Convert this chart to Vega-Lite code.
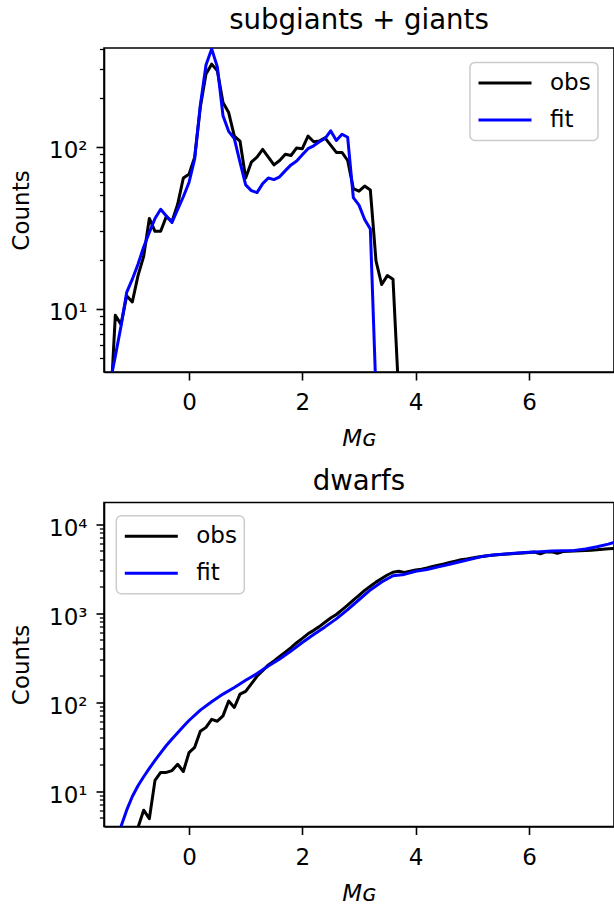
{
  "$schema": "https://vega.github.io/schema/vega-lite/v6.json",
  "padding": {"left": 9, "top": 6, "right": 0, "bottom": 0},
  "background": "white",
  "spacing": 14.5,
  "config": {
    "font": "DejaVu Sans",
    "view": {"stroke": "black", "strokeWidth": 1.6},
    "axis": {
      "domainColor": "black", "domainWidth": 1.6, "tickColor": "black", "tickWidth": 1.6,
      "labelFont": "DejaVu Sans", "labelFontSize": 23, "labelColor": "black",
      "titleFont": "DejaVu Sans", "titleFontSize": 23, "titleFontWeight": "normal", "titleColor": "black",
      "grid": false, "labelFlush": false, "labelOverlap": false, "labelBound": false
    },
    "title": {"font": "DejaVu Sans", "fontSize": 27.6, "fontWeight": "normal", "color": "black", "baseline": "alphabetic", "offset": 7, "frame": "group", "anchor": "middle"},
    "legend": {
      "title": null, "symbolType": "stroke", "symbolSize": 2809, "symbolStrokeWidth": 3,
      "clipHeight": 27, "rowPadding": 10, "labelFont": "DejaVu Sans", "labelFontSize": 23, "labelColor": "black",
      "labelOffset": 17, "padding": 7, "strokeColor": "#cccccc", "strokeWidth": 1.5,
      "fillColor": "rgba(255,255,255,0.8)", "cornerRadius": 5
    }
  },
  "resolve": {"scale": {"color": "independent", "x": "independent", "y": "independent"}, "legend": {"color": "independent"}},
  "datasets": {
    "giants": [
      {"x": -1.4, "n": 2, "s": "obs"}, {"x": -1.3, "n": 9.1, "s": "obs"}, {"x": -1.2, "n": 8.0, "s": "obs"}, {"x": -1.1, "n": 12, "s": "obs"},
      {"x": -1.0, "n": 11, "s": "obs"}, {"x": -0.9, "n": 16, "s": "obs"}, {"x": -0.8, "n": 21, "s": "obs"}, {"x": -0.7, "n": 36, "s": "obs"},
      {"x": -0.6, "n": 30, "s": "obs"}, {"x": -0.5, "n": 30, "s": "obs"}, {"x": -0.4, "n": 37, "s": "obs"}, {"x": -0.3, "n": 34.5, "s": "obs"},
      {"x": -0.2, "n": 44, "s": "obs"}, {"x": -0.1, "n": 64, "s": "obs"}, {"x": 0.0, "n": 67.5, "s": "obs"}, {"x": 0.1, "n": 86, "s": "obs"},
      {"x": 0.2, "n": 175, "s": "obs"}, {"x": 0.3, "n": 280, "s": "obs"}, {"x": 0.4, "n": 322, "s": "obs"}, {"x": 0.5, "n": 293, "s": "obs"},
      {"x": 0.6, "n": 187, "s": "obs"}, {"x": 0.7, "n": 162, "s": "obs"}, {"x": 0.8, "n": 116, "s": "obs"}, {"x": 0.9, "n": 108, "s": "obs"},
      {"x": 1.0, "n": 64, "s": "obs"}, {"x": 1.1, "n": 80, "s": "obs"}, {"x": 1.2, "n": 86, "s": "obs"}, {"x": 1.3, "n": 96, "s": "obs"},
      {"x": 1.4, "n": 86, "s": "obs"}, {"x": 1.5, "n": 77, "s": "obs"}, {"x": 1.6, "n": 82, "s": "obs"}, {"x": 1.7, "n": 89.5, "s": "obs"},
      {"x": 1.8, "n": 88, "s": "obs"}, {"x": 1.9, "n": 98, "s": "obs"}, {"x": 2.0, "n": 97, "s": "obs"}, {"x": 2.1, "n": 116, "s": "obs"},
      {"x": 2.2, "n": 107, "s": "obs"}, {"x": 2.3, "n": 108, "s": "obs"}, {"x": 2.4, "n": 113, "s": "obs"}, {"x": 2.5, "n": 102, "s": "obs"},
      {"x": 2.6, "n": 92, "s": "obs"}, {"x": 2.7, "n": 92, "s": "obs"}, {"x": 2.8, "n": 82, "s": "obs"}, {"x": 2.9, "n": 55, "s": "obs"},
      {"x": 3.0, "n": 53, "s": "obs"}, {"x": 3.1, "n": 57, "s": "obs"}, {"x": 3.2, "n": 54, "s": "obs"}, {"x": 3.3, "n": 19.7, "s": "obs"},
      {"x": 3.4, "n": 14.1, "s": "obs"}, {"x": 3.5, "n": 16, "s": "obs"}, {"x": 3.6, "n": 15.2, "s": "obs"}, {"x": 3.7, "n": 3, "s": "obs"},
      {"x": -1.4, "n": 3.4, "s": "fit"}, {"x": -1.3, "n": 5.1, "s": "fit"}, {"x": -1.2, "n": 7.8, "s": "fit"}, {"x": -1.1, "n": 12.6, "s": "fit"},
      {"x": -1.0, "n": 15.2, "s": "fit"}, {"x": -0.9, "n": 18.8, "s": "fit"}, {"x": -0.8, "n": 24, "s": "fit"}, {"x": -0.7, "n": 29.5, "s": "fit"},
      {"x": -0.6, "n": 36, "s": "fit"}, {"x": -0.5, "n": 41, "s": "fit"}, {"x": -0.4, "n": 37.3, "s": "fit"}, {"x": -0.3, "n": 34, "s": "fit"},
      {"x": -0.2, "n": 41, "s": "fit"}, {"x": -0.1, "n": 49, "s": "fit"}, {"x": 0.0, "n": 60, "s": "fit"}, {"x": 0.1, "n": 84, "s": "fit"},
      {"x": 0.2, "n": 180, "s": "fit"}, {"x": 0.3, "n": 318, "s": "fit"}, {"x": 0.4, "n": 400, "s": "fit"}, {"x": 0.5, "n": 310, "s": "fit"},
      {"x": 0.6, "n": 155, "s": "fit"}, {"x": 0.7, "n": 124, "s": "fit"}, {"x": 0.8, "n": 112, "s": "fit"}, {"x": 0.9, "n": 80, "s": "fit"},
      {"x": 1.0, "n": 58, "s": "fit"}, {"x": 1.1, "n": 53.5, "s": "fit"}, {"x": 1.2, "n": 52, "s": "fit"}, {"x": 1.3, "n": 59, "s": "fit"},
      {"x": 1.4, "n": 64, "s": "fit"}, {"x": 1.5, "n": 62.5, "s": "fit"}, {"x": 1.6, "n": 65, "s": "fit"}, {"x": 1.7, "n": 71, "s": "fit"},
      {"x": 1.8, "n": 77, "s": "fit"}, {"x": 1.9, "n": 81.5, "s": "fit"}, {"x": 2.0, "n": 89, "s": "fit"}, {"x": 2.1, "n": 97, "s": "fit"},
      {"x": 2.2, "n": 101, "s": "fit"}, {"x": 2.3, "n": 107, "s": "fit"}, {"x": 2.4, "n": 112, "s": "fit"}, {"x": 2.5, "n": 125, "s": "fit"},
      {"x": 2.6, "n": 109, "s": "fit"}, {"x": 2.7, "n": 119, "s": "fit"}, {"x": 2.8, "n": 114, "s": "fit"}, {"x": 2.9, "n": 48.4, "s": "fit"},
      {"x": 3.0, "n": 43.5, "s": "fit"}, {"x": 3.1, "n": 35.5, "s": "fit"}, {"x": 3.2, "n": 31, "s": "fit"}, {"x": 3.3, "n": 3, "s": "fit"}
    ],
    "dwarfs": [
      {"x": -1.0, "n": 1, "s": "obs"}, {"x": -0.9, "n": 3.9, "s": "obs"}, {"x": -0.8, "n": 6.1, "s": "obs"}, {"x": -0.7, "n": 4.9, "s": "obs"},
      {"x": -0.6, "n": 13.2, "s": "obs"}, {"x": -0.5, "n": 16.2, "s": "obs"}, {"x": -0.4, "n": 16.2, "s": "obs"}, {"x": -0.3, "n": 17, "s": "obs"},
      {"x": -0.2, "n": 20, "s": "obs"}, {"x": -0.1, "n": 16.6, "s": "obs"}, {"x": 0.0, "n": 27, "s": "obs"}, {"x": 0.1, "n": 31, "s": "obs"},
      {"x": 0.2, "n": 47, "s": "obs"}, {"x": 0.3, "n": 52, "s": "obs"}, {"x": 0.4, "n": 64, "s": "obs"}, {"x": 0.5, "n": 61, "s": "obs"},
      {"x": 0.6, "n": 70, "s": "obs"}, {"x": 0.7, "n": 103, "s": "obs"}, {"x": 0.8, "n": 87, "s": "obs"}, {"x": 0.9, "n": 123, "s": "obs"},
      {"x": 1.0, "n": 132, "s": "obs"}, {"x": 1.1, "n": 160, "s": "obs"}, {"x": 1.2, "n": 195, "s": "obs"}, {"x": 1.3, "n": 225, "s": "obs"},
      {"x": 1.4, "n": 262, "s": "obs"}, {"x": 1.5, "n": 290, "s": "obs"}, {"x": 1.6, "n": 325, "s": "obs"}, {"x": 1.7, "n": 365, "s": "obs"},
      {"x": 1.8, "n": 410, "s": "obs"}, {"x": 1.9, "n": 465, "s": "obs"}, {"x": 2.0, "n": 520, "s": "obs"}, {"x": 2.1, "n": 585, "s": "obs"},
      {"x": 2.2, "n": 640, "s": "obs"}, {"x": 2.3, "n": 705, "s": "obs"}, {"x": 2.4, "n": 790, "s": "obs"}, {"x": 2.5, "n": 880, "s": "obs"},
      {"x": 2.6, "n": 965, "s": "obs"}, {"x": 2.7, "n": 1090, "s": "obs"}, {"x": 2.8, "n": 1230, "s": "obs"}, {"x": 2.9, "n": 1400, "s": "obs"},
      {"x": 3.0, "n": 1580, "s": "obs"}, {"x": 3.1, "n": 1800, "s": "obs"}, {"x": 3.2, "n": 2000, "s": "obs"}, {"x": 3.3, "n": 2230, "s": "obs"},
      {"x": 3.4, "n": 2450, "s": "obs"}, {"x": 3.5, "n": 2680, "s": "obs"}, {"x": 3.6, "n": 2880, "s": "obs"}, {"x": 3.7, "n": 2950, "s": "obs"},
      {"x": 3.8, "n": 2870, "s": "obs"}, {"x": 3.9, "n": 2960, "s": "obs"}, {"x": 4.0, "n": 3060, "s": "obs"}, {"x": 4.1, "n": 3120, "s": "obs"},
      {"x": 4.2, "n": 3210, "s": "obs"}, {"x": 4.3, "n": 3340, "s": "obs"}, {"x": 4.4, "n": 3450, "s": "obs"}, {"x": 4.5, "n": 3560, "s": "obs"},
      {"x": 4.6, "n": 3700, "s": "obs"}, {"x": 4.7, "n": 3840, "s": "obs"}, {"x": 4.8, "n": 3980, "s": "obs"}, {"x": 4.9, "n": 4060, "s": "obs"},
      {"x": 5.0, "n": 4160, "s": "obs"}, {"x": 5.1, "n": 4260, "s": "obs"}, {"x": 5.2, "n": 4360, "s": "obs"}, {"x": 5.3, "n": 4440, "s": "obs"},
      {"x": 5.4, "n": 4500, "s": "obs"}, {"x": 5.5, "n": 4570, "s": "obs"}, {"x": 5.6, "n": 4610, "s": "obs"}, {"x": 5.7, "n": 4650, "s": "obs"},
      {"x": 5.8, "n": 4700, "s": "obs"}, {"x": 5.9, "n": 4750, "s": "obs"}, {"x": 6.0, "n": 4800, "s": "obs"}, {"x": 6.1, "n": 4850, "s": "obs"},
      {"x": 6.2, "n": 4650, "s": "obs"}, {"x": 6.3, "n": 4870, "s": "obs"}, {"x": 6.4, "n": 4900, "s": "obs"}, {"x": 6.5, "n": 4700, "s": "obs"},
      {"x": 6.6, "n": 4920, "s": "obs"}, {"x": 6.7, "n": 4950, "s": "obs"}, {"x": 6.8, "n": 5000, "s": "obs"}, {"x": 6.9, "n": 5030, "s": "obs"},
      {"x": 7.0, "n": 5060, "s": "obs"}, {"x": 7.1, "n": 5100, "s": "obs"}, {"x": 7.2, "n": 5150, "s": "obs"}, {"x": 7.3, "n": 5220, "s": "obs"},
      {"x": 7.4, "n": 5300, "s": "obs"}, {"x": 7.5, "n": 5330, "s": "obs"},
      {"x": -1.3, "n": 2.6, "s": "fit"}, {"x": -1.2, "n": 4.0, "s": "fit"}, {"x": -1.1, "n": 6.1, "s": "fit"}, {"x": -1.0, "n": 8.7, "s": "fit"},
      {"x": -0.9, "n": 11.5, "s": "fit"}, {"x": -0.8, "n": 14.5, "s": "fit"}, {"x": -0.7, "n": 18.0, "s": "fit"}, {"x": -0.6, "n": 22.1, "s": "fit"},
      {"x": -0.5, "n": 26.9, "s": "fit"}, {"x": -0.4, "n": 32.5, "s": "fit"}, {"x": -0.3, "n": 38.5, "s": "fit"}, {"x": -0.2, "n": 45.2, "s": "fit"},
      {"x": -0.1, "n": 53.1, "s": "fit"}, {"x": 0.0, "n": 62.1, "s": "fit"}, {"x": 0.2, "n": 81.3, "s": "fit"}, {"x": 0.4, "n": 101, "s": "fit"},
      {"x": 0.6, "n": 123, "s": "fit"}, {"x": 0.8, "n": 146, "s": "fit"}, {"x": 1.0, "n": 176, "s": "fit"}, {"x": 1.2, "n": 209, "s": "fit"},
      {"x": 1.4, "n": 254, "s": "fit"}, {"x": 1.6, "n": 305, "s": "fit"}, {"x": 1.8, "n": 376, "s": "fit"}, {"x": 2.0, "n": 468, "s": "fit"},
      {"x": 2.2, "n": 575, "s": "fit"}, {"x": 2.4, "n": 700, "s": "fit"}, {"x": 2.6, "n": 861, "s": "fit"}, {"x": 2.8, "n": 1096, "s": "fit"},
      {"x": 3.0, "n": 1413, "s": "fit"}, {"x": 3.2, "n": 1820, "s": "fit"}, {"x": 3.4, "n": 2239, "s": "fit"}, {"x": 3.6, "n": 2630, "s": "fit"},
      {"x": 3.8, "n": 2723, "s": "fit"}, {"x": 4.0, "n": 2951, "s": "fit"}, {"x": 4.2, "n": 3090, "s": "fit"}, {"x": 4.4, "n": 3311, "s": "fit"},
      {"x": 4.6, "n": 3548, "s": "fit"}, {"x": 4.8, "n": 3802, "s": "fit"}, {"x": 5.0, "n": 4074, "s": "fit"}, {"x": 5.2, "n": 4365, "s": "fit"},
      {"x": 5.4, "n": 4519, "s": "fit"}, {"x": 5.6, "n": 4624, "s": "fit"}, {"x": 5.8, "n": 4732, "s": "fit"}, {"x": 6.0, "n": 4842, "s": "fit"},
      {"x": 6.2, "n": 4898, "s": "fit"}, {"x": 6.4, "n": 4977, "s": "fit"}, {"x": 6.6, "n": 5012, "s": "fit"}, {"x": 6.8, "n": 5070, "s": "fit"},
      {"x": 7.0, "n": 5248, "s": "fit"}, {"x": 7.2, "n": 5559, "s": "fit"}, {"x": 7.4, "n": 5957, "s": "fit"}, {"x": 7.5, "n": 6237, "s": "fit"}
    ]
  },
  "vconcat": [
    {
      "title": "subgiants + giants",
      "width": 510, "height": 324,
      "data": {"name": "giants"},
      "encoding": {
        "x": {"field": "x", "type": "quantitative", "scale": {"domain": [-1.5, 7.5], "nice": false, "zero": false},
          "axis": {"values": [0, 2, 4, 6], "tickSize": 8, "labelPadding": 11.5, "title": "Mɢ", "titleFontStyle": "italic", "titlePadding": 13}},
        "y": {"field": "n", "type": "quantitative", "scale": {"type": "log", "domain": [4.07, 405], "nice": false, "zero": false},
          "axis": {"values": [5, 6, 7, 8, 9, 10, 20, 30, 40, 50, 60, 70, 80, 90, 100, 200, 300, 400],
            "labelExpr": "datum.value === 10 ? '10¹' : datum.value === 100 ? '10²' : ''",
            "tickSize": {"condition": {"test": "datum.value === 10 || datum.value === 100", "value": 8}, "value": 4.6},
            "tickWidth": {"condition": {"test": "datum.value === 10 || datum.value === 100", "value": 1.6}, "value": 1.3},
            "labelPadding": 9, "labelBaseline": "alphabetic", "labelOffset": 11, "title": "Counts", "titlePadding": 15}},
        "color": {"field": "s", "type": "nominal", "scale": {"domain": ["obs", "fit"], "range": ["#000000", "#0000ff"]},
          "legend": {"orient": "none", "legendX": 366, "legendY": 14.4}}
      },
      "layer": [
        {"transform": [{"filter": "datum.s === 'obs'"}], "mark": {"type": "line", "clip": true, "strokeWidth": 3, "strokeJoin": "round"}},
        {"transform": [{"filter": "datum.s === 'fit'"}], "mark": {"type": "line", "clip": true, "strokeWidth": 3, "strokeJoin": "round"}}
      ]
    },
    {
      "title": "dwarfs",
      "width": 510, "height": 324,
      "data": {"name": "dwarfs"},
      "encoding": {
        "x": {"field": "x", "type": "quantitative", "scale": {"domain": [-1.5, 7.5], "nice": false, "zero": false},
          "axis": {"values": [0, 2, 4, 6], "tickSize": 8, "labelPadding": 11.5, "title": "Mɢ", "titleFontStyle": "italic", "titlePadding": 13}},
        "y": {"field": "n", "type": "quantitative", "scale": {"type": "log", "domain": [4.0, 17500], "nice": false, "zero": false},
          "axis": {"values": [5, 6, 7, 8, 9, 10, 20, 30, 40, 50, 60, 70, 80, 90, 100, 200, 300, 400, 500, 600, 700, 800, 900, 1000, 2000, 3000, 4000, 5000, 6000, 7000, 8000, 9000, 10000],
            "labelExpr": "datum.value === 10 ? '10¹' : datum.value === 100 ? '10²' : datum.value === 1000 ? '10³' : datum.value === 10000 ? '10⁴' : ''",
            "tickSize": {"condition": {"test": "datum.value === 10 || datum.value === 100 || datum.value === 1000 || datum.value === 10000", "value": 8}, "value": 4.6},
            "tickWidth": {"condition": {"test": "datum.value === 10 || datum.value === 100 || datum.value === 1000 || datum.value === 10000", "value": 1.6}, "value": 1.3},
            "labelPadding": 9, "labelBaseline": "alphabetic", "labelOffset": 11, "title": "Counts", "titlePadding": 15}},
        "color": {"field": "s", "type": "nominal", "scale": {"domain": ["obs", "fit"], "range": ["#000000", "#0000ff"]},
          "legend": {"orient": "none", "legendX": 12.3, "legendY": 13.3}}
      },
      "layer": [
        {"transform": [{"filter": "datum.s === 'obs'"}], "mark": {"type": "line", "clip": true, "strokeWidth": 3, "strokeJoin": "round"}},
        {"transform": [{"filter": "datum.s === 'fit'"}], "mark": {"type": "line", "clip": true, "strokeWidth": 3, "strokeJoin": "round"}}
      ]
    }
  ]
}
